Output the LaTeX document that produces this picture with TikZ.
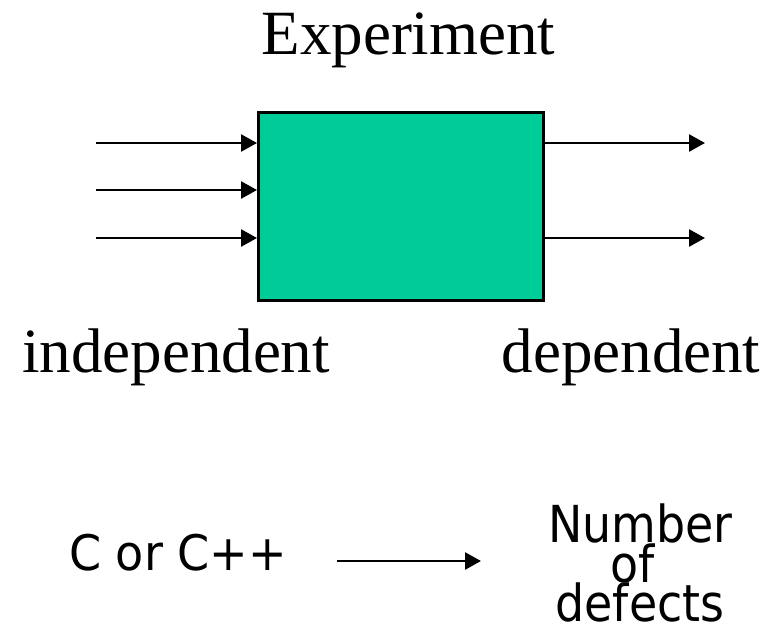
\documentclass[tikz,border=0pt]{standalone}
\usepackage{fontspec}
\setmainfont{Liberation Serif}
\newfontfamily\sansf{DejaVu Sans}
\usetikzlibrary{arrows.meta}
\definecolor{boxgreen}{HTML}{00CC99}
\begin{document}
\begin{tikzpicture}[x=1pt,y=-1pt,
  arr/.style={line width=2.6pt,-{Triangle[length=16pt,width=17pt]}},
  serifbig/.style={inner sep=0pt,font=\fontsize{63}{70}\selectfont},
  sanslabel/.style={inner sep=0pt,anchor=base,font=\sansf\fontsize{51}{40}\selectfont,xscale=0.9}]
\useasboundingbox (0,0) rectangle (781,626);
\node[draw,line width=3pt,fill=boxgreen,minimum width=285pt,minimum height=188pt,inner sep=0pt] (box) at (401,206.5) {};
\node[serifbig,anchor=base] (title) at (408.5,55) {Experiment};
\node[serifbig,anchor=base] (indep) at (176,372) {independent};
\node[serifbig,anchor=base] (dep) at (631,372) {dependent};
% input arrows
\coordinate (i1) at (96,143);
\coordinate (i2) at (96,190);
\coordinate (i3) at (96,238);
\draw[arr] (i1) -- (i1 -| box.west);
\draw[arr] (i2) -- (i2 -| box.west);
\draw[arr] (i3) -- (i3 -| box.west);
% output arrows
\coordinate (o1) at (705,143);
\coordinate (o2) at (705,238);
\draw[arr] (o1 -| box.east) -- (o1);
\draw[arr] (o2 -| box.east) -- (o2);
% bottom
\node[inner sep=0pt,anchor=base west,font=\sansf\fontsize{49}{52}\selectfont,xscale=0.94] (lang) at (69,570) {C or C++};
\node[sanslabel] (num) at (640.5,542) {Number};
\node[sanslabel] (of) at (633,582) {of};
\node[sanslabel] (defects) at (640,621) {defects};
\coordinate (b1) at (337,561);
\coordinate (b2) at (481,561);
\draw[arr] (b1) -- (b2);
\end{tikzpicture}
\end{document}
